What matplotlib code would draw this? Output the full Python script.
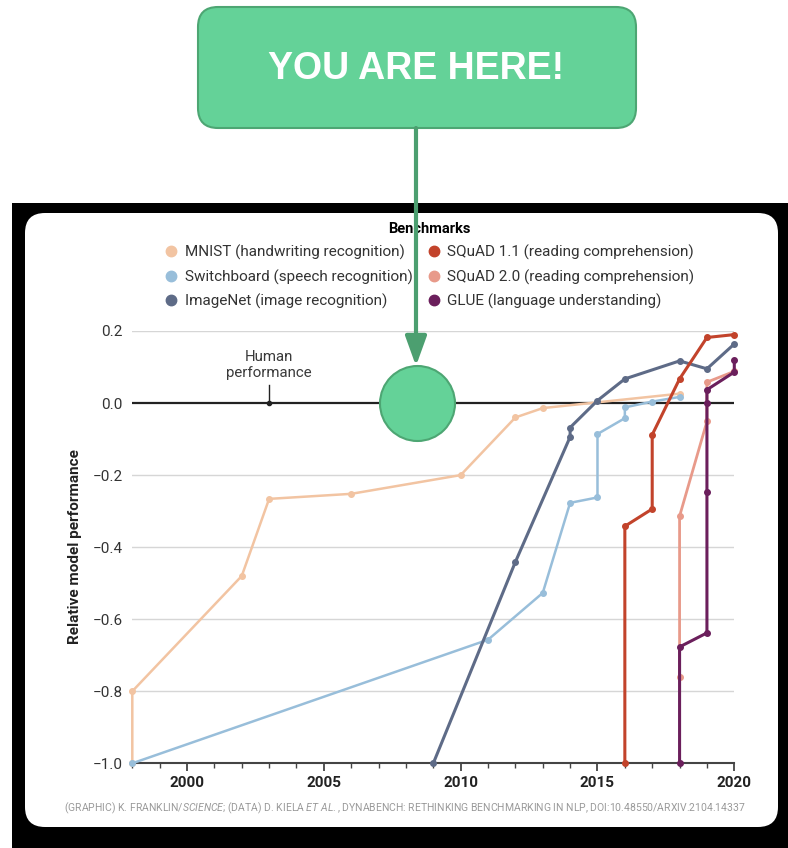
import matplotlib
matplotlib.use("Agg")
import matplotlib.pyplot as plt
from matplotlib.patches import FancyBboxPatch, Rectangle, FancyArrowPatch
from matplotlib.lines import Line2D
from matplotlib.ticker import MultipleLocator, FuncFormatter
from matplotlib.transforms import IdentityTransform

plt.rcParams["font.family"] = ["Roboto", "DejaVu Sans"]
plt.rcParams["mathtext.fontset"] = "custom"
plt.rcParams["mathtext.rm"] = "Roboto"
plt.rcParams["mathtext.it"] = "Roboto:italic"

## Benchmark series: year vs relative model performance
mnist_year = [1998, 1998, 2002, 2003, 2006, 2010, 2012, 2013, 2018]
mnist_val = [-1.0, -0.80, -0.48, -0.266, -0.252, -0.20, -0.04, -0.014, 0.026]

switch_year = [1998, 2011, 2013, 2014, 2015, 2015, 2016, 2016, 2017, 2018]
switch_val = [-1.0, -0.657, -0.527, -0.277, -0.262, -0.086, -0.042, -0.012, 0.004, 0.017]

imagenet_year = [2009, 2012, 2014, 2014, 2015, 2016, 2018, 2019, 2020]
imagenet_val = [-1.0, -0.441, -0.094, -0.068, 0.007, 0.067, 0.117, 0.095, 0.164]

squad11_year = [2016, 2016, 2017, 2017, 2018, 2019, 2020]
squad11_val = [-1.0, -0.342, -0.294, -0.088, 0.067, 0.182, 0.19]

squad20_year = [2018, 2018, 2019, 2019, 2020]
squad20_val = [-0.761, -0.314, -0.051, 0.058, 0.088]

glue_year = [2018, 2018, 2019, 2019, 2019, 2019, 2020, 2020]
glue_val = [-1.0, -0.677, -0.638, -0.247, 0.0, 0.037, 0.086, 0.12]

labels = ["MNIST (handwriting recognition)", "Switchboard (speech recognition)",
          "ImageNet (image recognition)", "SQuAD 1.1 (reading comprehension)",
          "SQuAD 2.0 (reading comprehension)", "GLUE (language understanding)"]
colours = ["#F2C4A2", "#98BEDA", "#5E6B87", "#C2432B", "#E89A8A", "#6B1F5C"]

human_year = 2003
here_year = 2008.4

W, H = 788, 848
fig = plt.figure(figsize=(W / 100, H / 100), dpi=100)
px = IdentityTransform()

## Background frame and white card
fig.add_artist(Rectangle((12, 0), W - 12, H - 203, transform=px, facecolor="black", edgecolor="none", zorder=-3))
fig.add_artist(FancyBboxPatch((25, 21), 753, 614, boxstyle="round,pad=0,rounding_size=20",
                              transform=px, facecolor="white", edgecolor="none", zorder=-2))

## Axes
ax = fig.add_axes([132.3 / W, (H - 763.3) / H, 602 / W, 432.3 / H])
ax.set_zorder(1)
ax.set_facecolor("none")
ax.set_xlim(1998, 2020)
ax.set_ylim(-1.0, 0.2)

for v in [-0.8, -0.6, -0.4, -0.2, 0.2]:
    ax.axhline(v, color="#d6d6d6", lw=1.0, zorder=1)
ax.axhline(0.0, color="#222222", lw=1.6, zorder=2)

series = [(mnist_year, mnist_val), (switch_year, switch_val), (imagenet_year, imagenet_val),
          (squad11_year, squad11_val), (squad20_year, squad20_val), (glue_year, glue_val)]
widths = [1.8, 1.8, 2.2, 2.2, 2.0, 2.2]
for (xs, ys), c, lw in zip(series, colours, widths):
    ax.plot(xs, ys, color=c, lw=lw, marker="o", ms=4, zorder=3, clip_on=False)

## Human performance marker
ax.plot([human_year, human_year], [0.0, 0.05], color="#222222", lw=1.0, zorder=4)
ax.plot([human_year], [0.0], "o", color="#222222", ms=3, zorder=4)
ax.text(human_year, 0.064, "Human\nperformance", ha="center", va="bottom", fontsize=10.8,
        color="#3a3a3a", linespacing=1.2)

## "You are here" circle
ax.plot([here_year], [0.0], "o", ms=54, color="#64D298", mec="#4DA673", mew=1.5, zorder=10, clip_on=False)

for s in ["top", "left", "right"]:
    ax.spines[s].set_visible(False)
ax.spines["bottom"].set_color("#444444")
ax.spines["bottom"].set_linewidth(1.5)
ax.spines["bottom"].set_zorder(2.5)

ax.xaxis.set_major_locator(MultipleLocator(5))
ax.xaxis.set_minor_locator(MultipleLocator(1))
ax.yaxis.set_major_locator(MultipleLocator(0.2))
ax.yaxis.set_major_formatter(FuncFormatter(lambda v, p: f"{v:.1f}".replace("-", "\u2212")))
ax.tick_params(axis="x", which="major", length=6, width=1.3, color="#444444", pad=3,
               labelsize=11, labelcolor="#222222")
ax.tick_params(axis="x", which="minor", length=3.5, width=1.0, color="#444444")
ax.tick_params(axis="y", length=0, pad=7, labelsize=11, labelcolor="#333333")
for t in ax.get_xticklabels():
    t.set_fontweight("bold")

fig.text(75 / W, (H - 547) / H, "Relative model performance", rotation=90, ha="center", va="center",
         fontsize=11, fontweight="bold", color="#222222")

## Legend
handles = [Line2D([], [], marker="o", ls="", ms=7.5, color=c) for c in colours]
leg = fig.legend(handles, labels, ncol=2, loc="upper center", bbox_to_anchor=(429 / W, (H - 214) / H),
                 frameon=False, title="Benchmarks", fontsize=11, handletextpad=0.4,
                 columnspacing=0.85, labelspacing=0.6, handlelength=1.0, borderpad=0)
leg.get_title().set_fontweight("bold")
leg.get_title().set_fontsize(10.5)
for t in leg.get_texts():
    t.set_color("#333333")

## Source line
fig.text(405 / W, 40 / H,
         r"(GRAPHIC) K. FRANKLIN/$\it{SCIENCE}$; (DATA) D. KIELA $\it{ET\ AL.}$, DYNABENCH: RETHINKING BENCHMARKING IN NLP, DOI:10.48550/ARXIV.2104.14337",
         ha="center", va="center", fontsize=7.5, color="#9a9a9a")

## Callout box and arrow
fig.add_artist(FancyBboxPatch((198, 720), 438, 121, boxstyle="round,pad=0,rounding_size=20",
                              transform=px, facecolor="#64D298", edgecolor="#4DA673", lw=1.5, zorder=20))
fig.text(416 / W, (H - 69) / H, "YOU ARE HERE!", ha="center", va="center", fontsize=27,
         fontweight="bold", color="white", family="Liberation Sans", zorder=21)
fig.add_artist(FancyArrowPatch((416, 720), (416, H - 366), transform=px, arrowstyle="-|>,head_length=1.8,head_width=0.65",
                               mutation_scale=10, color="#4C9F70", lw=3, shrinkA=0, shrinkB=0, zorder=20))

plt.savefig("out.png", dpi=100)
plt.close()
